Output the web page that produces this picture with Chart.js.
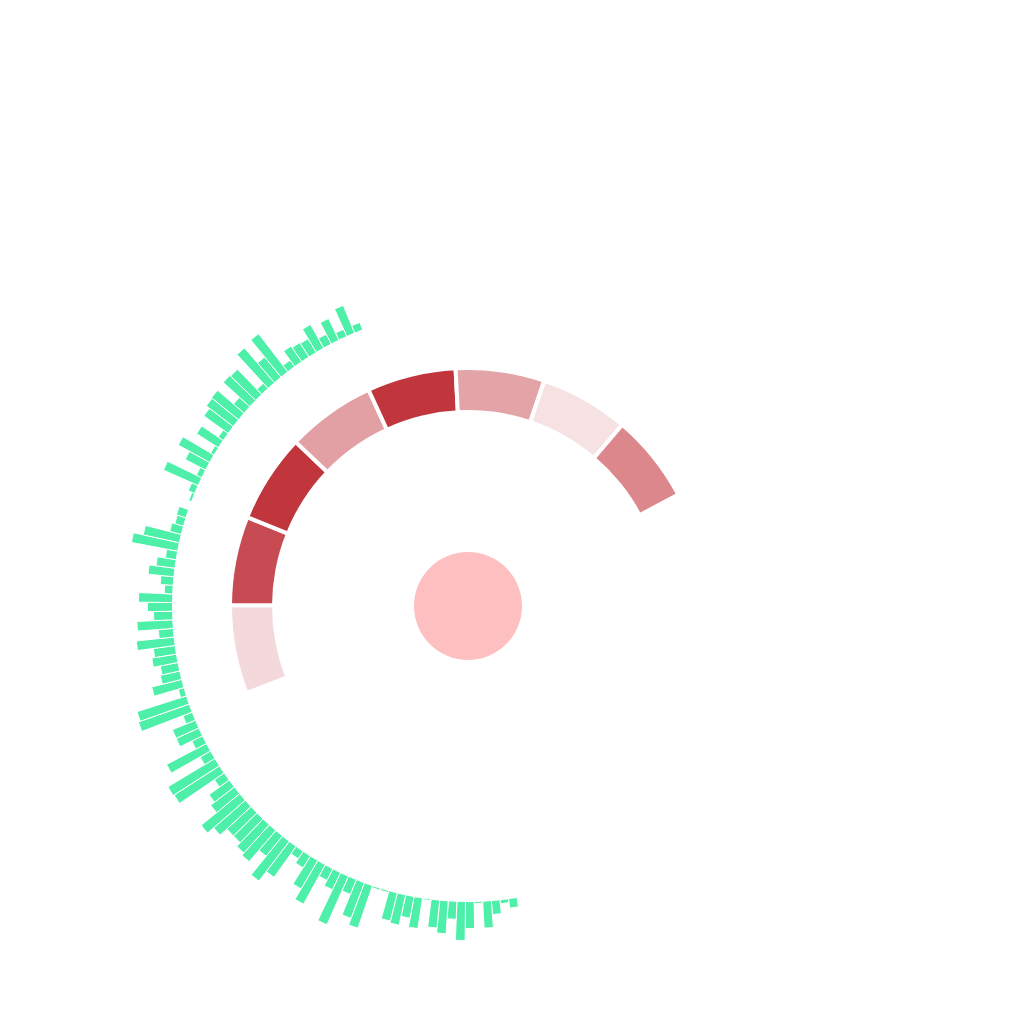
<!DOCTYPE html>
<html>
<head>
<meta charset="utf-8">
<script src="https://cdn.jsdelivr.net/npm/chart.js@4.4.0/dist/chart.umd.min.js"></script>
<style>
html, body { margin: 0; padding: 0; background: #ffffff; }
#wrap { position: relative; width: 1024px; height: 1024px; overflow: hidden; background: #ffffff; }
#wrap canvas { position: absolute; left: 68px; top: 206px; }
</style>
</head>
<body>
<div id="wrap">
  <canvas id="bars" width="800" height="800"></canvas>
  <canvas id="ring" width="800" height="800"></canvas>
</div>
<script>
// ---- data ----
const barValues = [
  9.5, 4, 14, 27, 2, 27, 39, 18, 33, 28,
  1.5, 31, 22, 31, 29, 2, 2, 45, 38, 16,
  53, 19, 13, 45, 33, 14, 9, 38, 50, 26,
  41, 38, 33, 33, 42, 50, 30, 25, 12, 54,
  55, 12, 45, 12, 25, 25, 10, 54, 52, 6,
  31, 20, 18, 25, 22, 38, 15, 36, 19, 25,
  34, 8.5, 13, 26, 19, 11, 47, 37, 12, 9,
  10, 0, 3, 7, 38, 6, 23, 36, 4, 26,
  6, 30, 34, 35, 14, 36, 35, 7, 46, 26,
  48, 8, 19, 17, 16, 27, 11, 24, 8, 30, 8
];
const barLabels = barValues.map((_, i) => 'B' + (i + 1));
const ringValues = [1, 1, 1, 1, 1, 1, 1, 1];
const ringLabels = ['S1', 'S2', 'S3', 'S4', 'S5', 'S6', 'S7', 'S8'];
const centerValue = [1];

// ---- styles / layout ----
const ringColors = ['#f3d9dc', '#c64b52', '#c1353d', '#e2a0a4', '#c1353d', '#e3a4a7', '#f6e2e3', '#db878b'];
const BAR_COLOR = '#4ef0a9';
const CENTER_COLOR = '#febfc1';
const BAR_BASE = 295.5;          // inner radius of the bar ring (scale units = px)
const BAR_PITCH = 1.67;          // degrees per bar
const BAR_START = 171.3 - BAR_PITCH / 2;
const RING_START = -111.5;
const RING_SPAN = 173.6;

// Polar-area controller whose bars start at a base value instead of the centre
class RingBarController extends Chart.PolarAreaController {
  updateElement(element, index, properties, mode) {
    if (properties && properties.outerRadius !== undefined) {
      const scale = this._cachedMeta.rScale;
      const v = this.getParsed(index).r;
      properties.innerRadius = scale.getDistanceFromCenterForValue(BAR_BASE);
      properties.outerRadius = scale.getDistanceFromCenterForValue(BAR_BASE + v);
    }
    super.updateElement(element, index, properties, mode);
  }
}
RingBarController.id = 'ringBar';
Chart.register(RingBarController);

new Chart(document.getElementById('bars'), {
  type: 'ringBar',
  data: {
    labels: barLabels,
    datasets: [{
      data: barValues,
      backgroundColor: BAR_COLOR,
      borderColor: '#ffffff',
      borderWidth: 1,
      borderJoinStyle: 'miter',
      angle: BAR_PITCH
    }]
  },
  options: {
    responsive: false,
    animation: false,
    events: [],
    layout: { padding: 0 },
    plugins: { legend: { display: false }, tooltip: { enabled: false } },
    scales: {
      r: {
        display: false,
        min: 0,
        max: 400,
        startAngle: BAR_START,
        ticks: { display: false },
        grid: { display: false },
        angleLines: { display: false },
        pointLabels: { display: false }
      }
    }
  }
});

new Chart(document.getElementById('ring'), {
  type: 'doughnut',
  data: {
    labels: ringLabels,
    datasets: [
      {
        data: ringValues,
        backgroundColor: ringColors,
        borderColor: '#ffffff',
        borderWidth: 4,
        borderJoinStyle: 'miter',
        weight: 44,
        rotation: RING_START,
        circumference: RING_SPAN
      },
      {
        data: [1],
        backgroundColor: 'rgba(0,0,0,0)',
        borderWidth: 0,
        weight: 140,
        rotation: RING_START
      },
      {
        data: centerValue,
        backgroundColor: CENTER_COLOR,
        borderWidth: 0,
        weight: 54,
        rotation: RING_START
      }
    ]
  },
  options: {
    responsive: false,
    animation: false,
    events: [],
    radius: 238,
    cutout: 0,
    layout: { padding: 0 },
    plugins: { legend: { display: false }, tooltip: { enabled: false } }
  }
});
</script>
</body>
</html>
